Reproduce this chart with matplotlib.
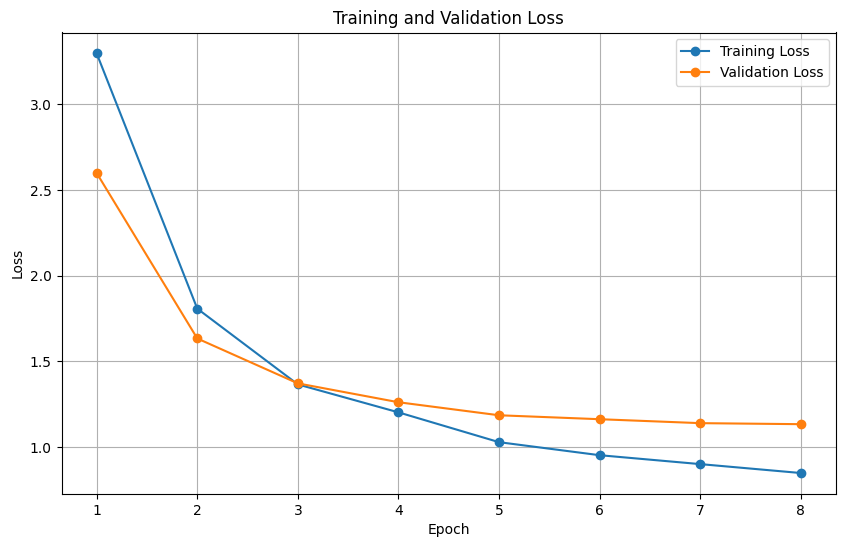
import matplotlib
matplotlib.use("Agg")
import matplotlib.pyplot as plt

# values
epochs = [1, 2, 3, 4, 5, 6, 7, 8]
train_loss = [3.297, 1.808, 1.366, 1.203, 1.029, 0.953, 0.901, 0.849]
val_loss = [2.599, 1.634, 1.372, 1.262, 1.186, 1.163, 1.140, 1.134]

W, H = 846, 547
left, right, top, bottom = 61.5, 836, 32.5, 494

fig = plt.figure(figsize=(W / 100, H / 100), dpi=100)
ax = fig.add_axes([left / W, 1 - bottom / H, (right - left) / W, (bottom - top) / H])

ax.plot(epochs, train_loss, marker='o', label='Training Loss')
ax.plot(epochs, val_loss, marker='o', label='Validation Loss')
ax.set_title('Training and Validation Loss')
ax.set_xlabel('Epoch')
ax.set_ylabel('Loss')
ax.legend()
ax.grid(True)

fig.savefig('out.png', dpi=100)
